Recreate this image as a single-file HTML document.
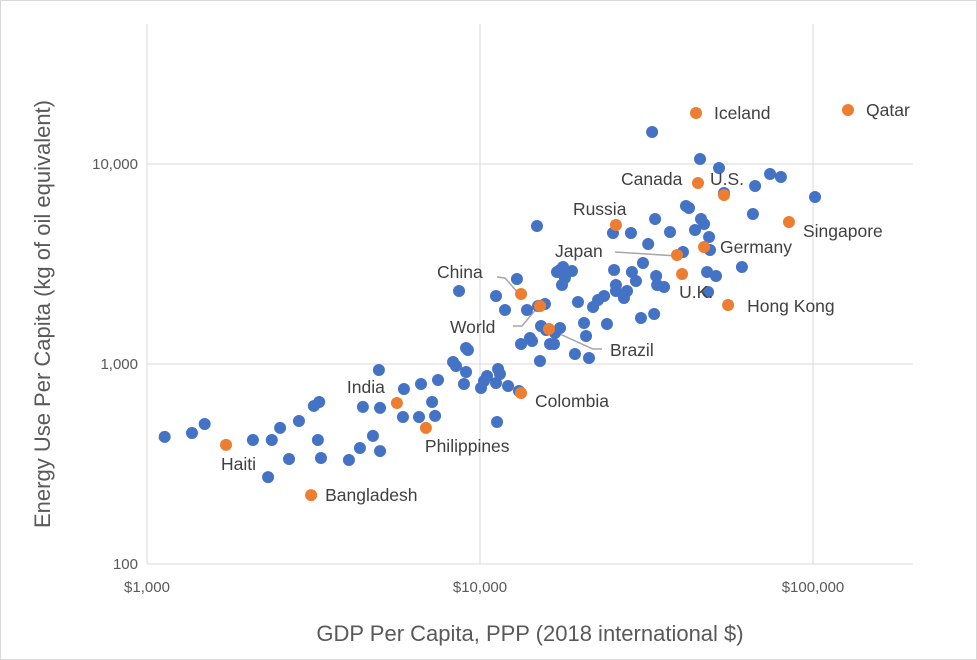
<!DOCTYPE html>
<html><head><meta charset="utf-8">
<style>
html,body{margin:0;padding:0;background:#fff;}
svg{display:block;font-family:"Liberation Sans",sans-serif;}
</style></head>
<body>
<svg id="chart" width="977" height="660">
<rect x="0.5" y="0.5" width="976" height="659" fill="#fff" stroke="#d9d9d9"/>
<g id="grid"></g>
<g id="ticks"></g>
<g id="leaders"></g>
<g id="points"></g>
<g id="labels"></g>
<text x="530" y="641" text-anchor="middle" font-size="22" fill="#595959">GDP Per Capita, PPP (2018 international $)</text>
<text transform="translate(50,314) rotate(-90)" text-anchor="middle" font-size="22" fill="#595959">Energy Use Per Capita (kg of oil equivalent)</text>
</svg>
<script>
const otherGdp=[1130,1365,1490,2080,2310,2370,2510,2670,2860,3170,3290,3260,3330,4040,4360,4450,4770,4970,5010,5010,5910,5870,6560,6650,7180,7330,7480,8300,8470,8950,9080,9080,9200,8650,10070,10280,10500,11170,11330,11480,11250,11170,12140,12910,11890,13090,13280,13840,14130,14330,14830,14940,15140,15250,15670,15790,16230,16680,16800,17390,17030,17390,17630,17760,17990,18890,19280,19690,20530,20820,21250,21850,22620,23580,24060,25080,25270,25600,25600,27640,27060,28590,28400,29400,30430,30860,31990,32870,33560,33800,34040,35700,37210,33340,40700,41550,42430,44230,45790,46100,47080,48080,48400,48740,49060,51140,52210,54040,61180,66000,67000,74300,80100,101400];
const otherEnergy=[432,452,501,417,272,417,479,335,519,617,646,417,339,331,380,610,437,933,367,603,750,543,543,794,646,550,832,1023,977,794,912,1202,1175,2317,759,822,871,804,944,891,513,2188,776,2661,1862,733,1259,1862,1349,1303,4898,1950,1035,1549,1995,1479,1259,1259,1429,1514,2884,2951,2483,3055,2692,2917,1122,2042,1603,1380,1072,1928,2089,2188,1585,4519,2951,2483,2317,2317,2138,2884,4519,2600,1698,3199,3981,14450,5309,2754,2483,2427,4571,1778,3631,6166,6026,4677,10590,5309,5012,2884,2291,4315,3715,2754,9550,7161,3055,5623,7762,8913,8610,6839];
const hlNames=["Haiti","Bangladesh","India","Philippines","Colombia","China","World","Brazil","Russia","Japan","U.K.","Canada","U.S.","Germany","Hong Kong","Singapore","Iceland","Qatar"];
const hlGdp=[1727,3110,5630,6880,13280,13280,15140,16110,25600,39050,40440,45150,54040,47080,55590,84700,44540,127400];
const hlEnergy=[394,221,638,479,716,2239,1950,1496,4955,3508,2818,8035,7000,3846,1972,5129,17990,18620];
const xTickVals=[1000,10000,100000];
const xTickLabels=["$1,000","$10,000","$100,000"];
const yTickVals=[100,1000,10000];
const yTickLabels=["100","1,000","10,000"];

const X0=147,XD=333,Y0=564,YD=200,PL=147,PR=913,PT=24,PB=564;
function xs(v){return X0+Math.log10(v/1000)*XD;}
function ys(v){return Y0-Math.log10(v/100)*YD;}
const NS="http://www.w3.org/2000/svg";
function mk(tag,attrs,parent){const e=document.createElementNS(NS,tag);for(const k in attrs)e.setAttribute(k,attrs[k]);document.getElementById(parent).appendChild(e);return e;}

xTickVals.forEach((v,i)=>{
  const x=xs(v);
  const l=mk('line',{x1:x,x2:x,y1:PT,y2:PB,stroke:'#d9d9d9','stroke-width':1},'grid');
  
  
  const t=mk('text',{x:x,y:592,'text-anchor':'middle','font-size':15,fill:'#595959'},'ticks');
  t.textContent=xTickLabels[i];
  
  
});
yTickVals.forEach((v,i)=>{
  const y=ys(v);
  const l=mk('line',{x1:PL,x2:PR,y1:y,y2:y,stroke:'#d9d9d9','stroke-width':1},'grid');
  
  
  const t=mk('text',{x:138,y:y+5,'text-anchor':'end','font-size':15,fill:'#595959'},'ticks');
  t.textContent=yTickLabels[i];
  
  
});
otherGdp.forEach((g,i)=>{
  const c=mk('circle',{cx:xs(g),cy:ys(otherEnergy[i]),r:6,fill:'#4472C4'},'points');
  
  
});
// label offsets relative to point (layout, not data)
const lblOff={"Haiti":[-5,25],"Bangladesh":[14,6],"India":[-50,-10],"Philippines":[-1,24],"Colombia":[14,14],"China":[-84,-16],"World":[-90,27],"Brazil":[61,27],"Russia":[-43,-10],"Japan":[-122,2],"U.K.":[-3,24],"Canada":[-77,2],"U.S.":[-14,-10],"Germany":[16,6],"Hong Kong":[19,7],"Singapore":[14,15],"Iceland":[18,6],"Qatar":[18,6]};
const leaders={"China":[[-24,-17],[-16,-16],[-2,0]],"World":[[-27,20],[-18,20],[-2,1]],"Brazil":[[0,0],[44,20],[53,20]],"Japan":[[-62,-3],[0,1]]};
hlNames.forEach((n,i)=>{
  const x=xs(hlGdp[i]),y=ys(hlEnergy[i]);
  if(leaders[n]){
    const p=mk('polyline',{points:leaders[n].map(d=>(x+d[0])+','+(y+d[1])).join(' '),fill:'none',stroke:'#a6a6a6','stroke-width':1.5},'leaders');
    
    
  }
  const c=mk('circle',{cx:x,cy:y,r:6,fill:'#ED7D31'},'points');
  
  
  const o=lblOff[n];
  const t=mk('text',{x:x+o[0],y:y+o[1],'font-size':17.5,fill:'#404040'},'labels');
  t.textContent=n;
  
  
});
</script>
</body></html>
